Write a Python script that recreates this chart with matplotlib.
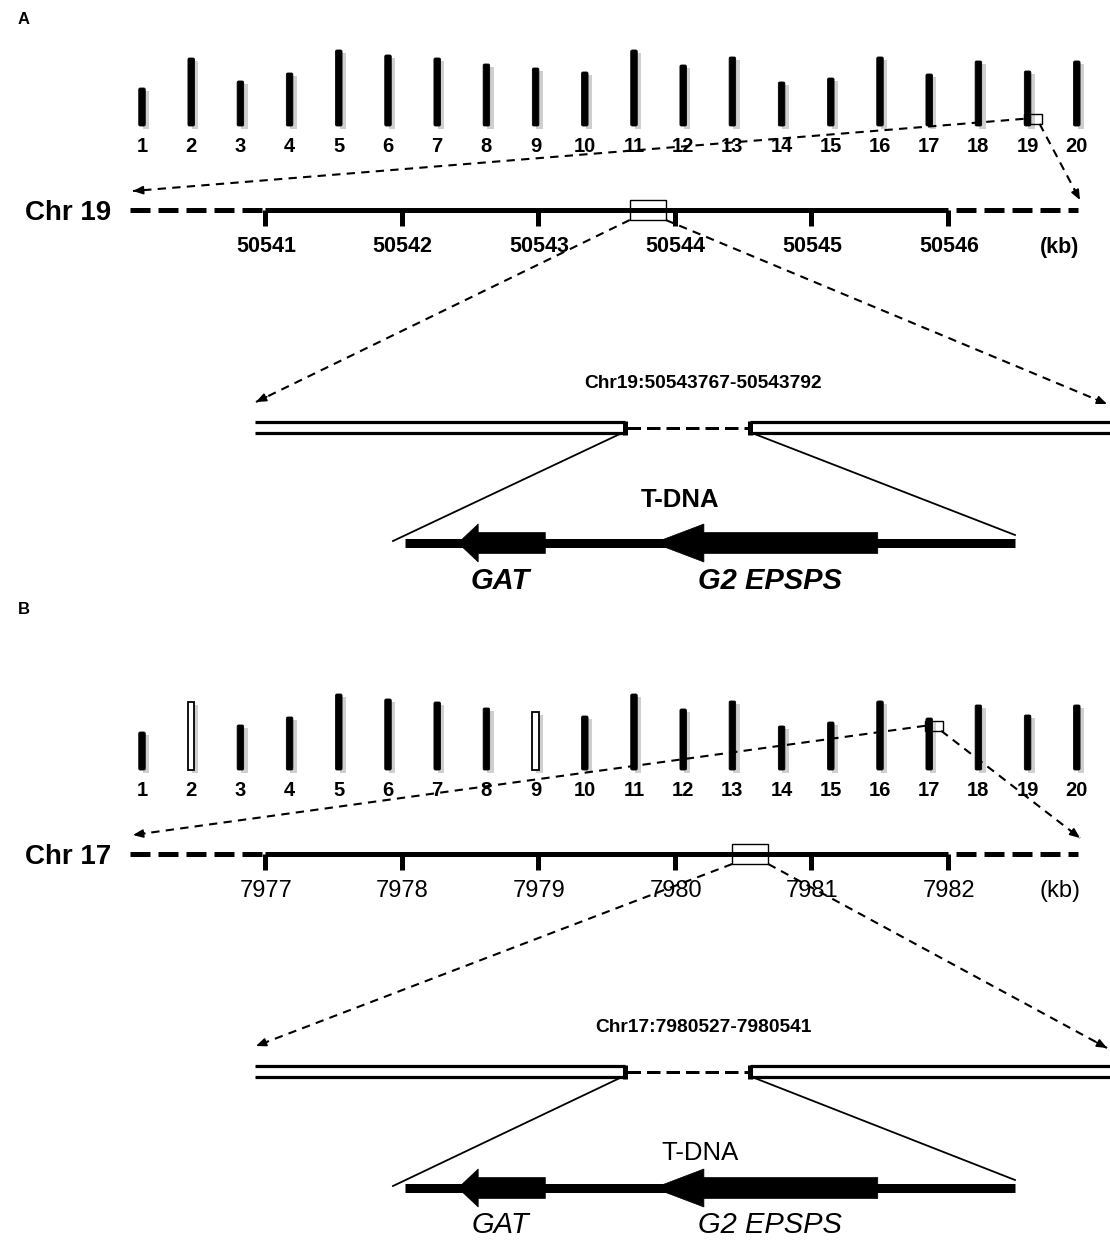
import matplotlib
matplotlib.use("Agg")
import matplotlib.pyplot as plt
from matplotlib.patches import Rectangle, Polygon, FancyBboxPatch

# ---------------- data ----------------
chrom_names = [str(i) for i in range(1, 21)]
chrom_lengths = [38, 68, 45, 53, 76, 71, 68, 62, 58, 54, 76, 61, 69, 44, 48, 69, 52, 65, 55, 65]
hollow_A = []
hollow_B = ["2", "9"]

ins_chrom_A = "19"
ins_chrom_B = "17"
ins_frac_A = 0.87   # relative position of insertion along chromosome (from top)
ins_frac_B = 0.15

ruler_ticks_A = [50541, 50542, 50543, 50544, 50545, 50546]
ruler_ticks_B = [7977, 7978, 7979, 7980, 7981, 7982]
ins_kb_A = 50543.78
ins_kb_B = 7980.53

region_A = "Chr19:50543767-50543792"
region_B = "Chr17:7980527-7980541"

# gene features along T-DNA as fractions of the T-DNA bar: (tip, head_base, body_end)
genes = ["GAT", "G2 EPSPS"]
gene_tip = [0.087, 0.408]
gene_head = [0.12, 0.49]
gene_end = [0.23, 0.775]

FONT = "Liberation Sans"

W, H = 1110, 1242
fig = plt.figure(figsize=(W / 100, H / 100), dpi=100)
ax = fig.add_axes([0, 0, 1, 1])
ax.set_xlim(0, W)
ax.set_ylim(H, 0)
ax.axis("off")

PX = 0.72  # points per pixel


def dashed_arrow(x0, y0, x1, y1):
    ax.plot([x0, x1], [y0, y1], color="k", lw=1.5, linestyle=(0, (4, 3)),
            solid_capstyle="butt", dash_capstyle="butt")
    dx, dy = x1 - x0, y1 - y0
    L = (dx ** 2 + dy ** 2) ** 0.5
    ax.annotate("", xy=(x1, y1), xytext=(x1 - dx / L * 12, y1 - dy / L * 12),
                arrowprops=dict(arrowstyle="-|>,head_length=0.6,head_width=0.25",
                                color="k", lw=1.2, shrinkA=0, shrinkB=0))


def panel(off, label, hollow, ins_chrom, ins_frac, ticks, ins_kb, region, bold,
          chr_label, tdna_dx, tdna_dy, tick_fs):
    fw = "bold" if bold else "normal"
    # panel label
    ax.text(18, 20 + (589 if label == "B" else 0), label, fontsize=12, fontweight="bold",
            family=FONT, ha="left", va="center")
    # chromosomes
    x0, dx, bottom, cw = 142, 49.2, 126 + off, 6.5
    ins_x = ins_y = None
    for i, (nm, ln) in enumerate(zip(chrom_names, chrom_lengths)):
        cx = x0 + dx * i
        ax.add_patch(Rectangle((cx - cw / 2 + 4, bottom - ln + 3), cw, ln,
                               facecolor="#cfcfcf", edgecolor="none", zorder=1))
        if nm in hollow:
            ax.add_patch(Rectangle((cx - cw / 2, bottom - ln), cw, ln, facecolor="white",
                                   edgecolor="k", lw=1.3, zorder=2))
        else:
            ax.add_patch(FancyBboxPatch((cx - cw / 2 + 1.5, bottom - ln + 1.5), cw - 3, ln - 3,
                                        boxstyle="round,pad=1.5", facecolor="k",
                                        edgecolor="k", lw=0.6, zorder=2))
        ax.text(cx, bottom + 21, nm, fontsize=14.5, fontweight="bold", family=FONT,
                ha="center", va="center")
        if nm == ins_chrom:
            ins_x = cx
            ins_y = bottom - ln + ln * ins_frac
    # small box on chromosome
    bx0, bx1 = ins_x - 4, ins_x + 14
    by0, by1 = ins_y - 5, ins_y + 5
    ax.add_patch(Rectangle((bx0, by0), bx1 - bx0, by1 - by0, facecolor="none",
                           edgecolor="k", lw=1.0, zorder=4))
    ry = 210 + off
    dashed_arrow(bx0, ins_y, 133, ry - 19)
    dashed_arrow(bx1 - 2, by1, 1080, ry - 10 if label == "A" else ry - 16)

    # ruler
    ax.text(25, ry + 3, chr_label, fontsize=20, fontweight="bold", family=FONT,
            ha="left", va="center")
    rx0, rstep = 265, 136.6
    rx1 = rx0 + rstep * (len(ticks) - 1)
    ax.plot([130, rx0], [ry, ry], color="k", lw=5 * PX, linestyle=(0, (4, 1.6)),
            dash_capstyle="butt")
    ax.plot([rx0, rx1], [ry, ry], color="k", lw=5 * PX, solid_capstyle="butt")
    ax.plot([rx1 + 8, 1078], [ry, ry], color="k", lw=5 * PX, linestyle=(0, (4, 1.6)),
            dash_capstyle="butt")
    for k, t in enumerate(ticks):
        tx = rx0 + rstep * k
        ax.plot([tx, tx], [ry, ry + 16], color="k", lw=5 * PX, solid_capstyle="butt")
        ax.text(tx + 1, ry + 37, str(t), fontsize=tick_fs, fontweight=fw, family=FONT,
                ha="center", va="center")
    ax.text(1060, ry + 37, "(kb)", fontsize=tick_fs, fontweight=fw, family=FONT,
            ha="center", va="center")
    # box on ruler
    bc = rx0 + (ins_kb - ticks[0]) * rstep + 3
    qx0, qx1 = bc - 18, bc + 18
    ax.add_patch(Rectangle((qx0, ry - 10), qx1 - qx0, 20, facecolor="none",
                           edgecolor="k", lw=1.0, zorder=4))
    dy0 = 422 + off
    dashed_arrow(qx0, ry + 10, 256, dy0 - 20)
    dashed_arrow(qx1, ry + 10, 1107, dy0 - 18)

    # region title
    ax.text(703, 383 + off, region, fontsize=13.8, fontweight="bold", family=FONT,
            ha="center", va="center")

    # double lines
    dy1 = dy0 + 11
    for (a, b) in [(255, 625), (750, 1112)]:
        ax.plot([a, b], [dy0, dy0], color="k", lw=3.2 * PX, solid_capstyle="butt")
        ax.plot([a, b], [dy1, dy1], color="k", lw=3.2 * PX, solid_capstyle="butt")
    ax.plot([625, 625], [dy0 - 1.5, dy1 + 1.5], color="k", lw=5 * PX, solid_capstyle="butt")
    ax.plot([750, 750], [dy0 - 1.5, dy1 + 1.5], color="k", lw=5 * PX, solid_capstyle="butt")
    ax.plot([627, 748], [(dy0 + dy1) / 2] * 2, color="k", lw=3 * PX,
            linestyle=(0, (4.5, 2)), dash_capstyle="butt")

    # T-DNA bar
    gy = 543 + off + (1 if label == "B" else 0)
    gx0, gx1 = 405, 1015
    ax.plot([622, 393], [dy1, gy - 2], color="k", lw=1.3)
    ax.plot([752, 1015], [dy1, gy - 8], color="k", lw=1.3)
    ax.plot([gx0, gx1], [gy, gy], color="k", lw=9 * PX, solid_capstyle="butt")
    bh, hh = 10.5, 19
    for tip, hb, end in zip(gene_tip, gene_head, gene_end):
        xt = gx0 + tip * (gx1 - gx0)
        xh = gx0 + hb * (gx1 - gx0)
        xe = gx0 + end * (gx1 - gx0)
        ax.add_patch(Polygon([(xt, gy), (xh, gy - hh), (xh, gy - bh), (xe, gy - bh),
                              (xe, gy + bh), (xh, gy + bh), (xh, gy + hh)],
                             closed=True, facecolor="k", edgecolor="k", lw=0.5, zorder=3))
    ax.text(680 + tdna_dx, 500 + off + tdna_dy, "T-DNA", fontsize=18.5, fontweight=fw,
            family=FONT, ha="center", va="center")
    ax.text(500, 581 + off, "GAT", fontsize=21, fontweight=fw, fontstyle="italic",
            family=FONT, ha="center", va="center")
    ax.text(770, 581 + off, "G2 EPSPS", fontsize=21, fontweight=fw, fontstyle="italic",
            family=FONT, ha="center", va="center")


panel(0, "A", hollow_A, ins_chrom_A, ins_frac_A, ruler_ticks_A, ins_kb_A, region_A,
      True, "Chr 19", 0, 0, 15.5)
panel(644, "B", hollow_B, ins_chrom_B, ins_frac_B, ruler_ticks_B, ins_kb_B, region_B,
      False, "Chr 17", 20, 9, 17)

fig.savefig("out.png", dpi=100)
